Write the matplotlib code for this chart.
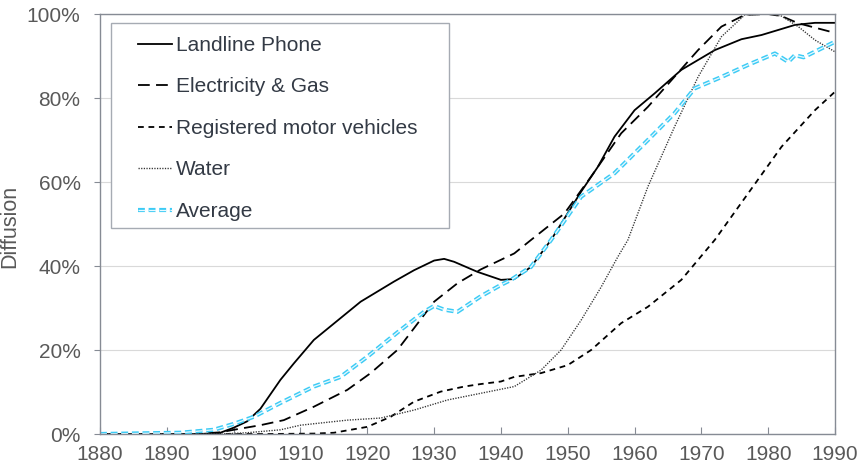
import matplotlib
matplotlib.use('Agg')
import matplotlib.pyplot as plt
import matplotlib.patheffects as pe
from matplotlib.patches import Rectangle
from matplotlib.ticker import PercentFormatter

# values, in percent
phone_years = [1880, 1895, 1898, 1900, 1902, 1904, 1907, 1909, 1912, 1916, 1919, 1924, 1927,
               1930, 1931.5, 1933, 1936.5, 1940, 1942, 1944.5, 1947.5, 1952, 1954.5, 1957,
               1960, 1963, 1967, 1972, 1976, 1979, 1984, 1987, 1990]
phone = [0, 0, 0.3, 1.5, 3, 6, 12.9, 16.8, 22.4, 27.6, 31.5, 36.3, 39,
         41.3, 41.7, 41, 38.6, 36.7, 36.9, 39.8, 46.2, 57.7, 63.6, 70.8,
         77.1, 81.1, 86.7, 91.4, 94, 95, 97.4, 97.9, 97.9]

elec_years = [1880, 1894, 1898, 1900, 1904, 1907.5, 1912, 1917, 1920.5, 1924.5, 1927, 1930,
              1933.5, 1937, 1942, 1944.5, 1949.5, 1953.5, 1958, 1962, 1966, 1969.5, 1973,
              1976.5, 1980, 1982, 1984.5, 1990]
elec = [0, 0, 0.4, 1.0, 2.1, 3.3, 6.5, 10.5, 14.5, 20, 25.2, 31.5,
        35.9, 39.2, 43, 46.2, 52.5, 61.3, 71.6, 77.9, 85.1, 91.4, 97,
        99.8, 100, 99.5, 97.8, 95.5]

cars_years = [1880, 1905, 1912, 1915, 1920, 1923.5, 1927, 1931, 1934.5, 1937, 1940, 1942,
              1946, 1950, 1953.5, 1958, 1962, 1967, 1972, 1977, 1982, 1987, 1990]
cars = [0, 0, 0.1, 0.3, 1.7, 4.1, 7.7, 10.1, 11.3, 11.9, 12.5, 13.6,
        14.5, 16.4, 20, 26.4, 30.3, 36.7, 46.2, 57.3, 68.4, 77.1, 81.5]

water_years = [1880, 1898, 1902, 1907, 1910, 1917, 1922, 1927, 1932, 1937, 1942, 1946,
               1949, 1952, 1955, 1957.5, 1959, 1962, 1966, 1969.5, 1973, 1976.5, 1980,
               1982, 1984.5, 1987, 1990]
water = [0, 0, 0.3, 1, 2.1, 3.3, 3.8, 5.7, 8.1, 9.7, 11.3, 15.2,
         20, 27.1, 35, 42.2, 46.2, 58.9, 73.2, 85, 94.6, 99.8, 100,
         99.5, 97, 93.8, 91]

avg_years = [1880, 1892, 1897, 1900, 1903, 1907, 1912, 1916, 1920, 1925, 1928.5, 1930,
             1931.5, 1933.5, 1937, 1940, 1941.5, 1944.5, 1947.5, 1952, 1957, 1962, 1966,
             1969, 1973, 1977, 1981, 1983, 1984, 1985.3, 1990]
avg = [0, 0.3, 1, 2.4, 4.1, 7.4, 11.3, 13.6, 18.4, 24.8, 29.1, 30.5,
       29.6, 29.1, 32.8, 35.5, 36.7, 39.8, 46.2, 56.5, 62.1, 70, 76.4,
       82.3, 85, 87.9, 90.6, 88.6, 90.2, 89.7, 93.4]

plt.rcParams['font.family'] = ['Liberation Sans', 'DejaVu Sans']

fig = plt.figure(figsize=(8.58, 4.75), dpi=100)
ax = fig.add_axes([0.1166, 0.0863, 0.8566, 0.8842])

ax.plot(phone_years, phone, color='black', lw=1.3, label='Landline Phone')
ax.plot(elec_years, elec, color='black', lw=1.3, dashes=(6.5, 3.5), label='Electricity & Gas')
ax.plot(cars_years, cars, color='black', lw=1.3, dashes=(3.2, 2.6), label='Registered motor vehicles')
ax.plot(water_years, water, color='#333333', lw=1.0, dashes=(0.9, 1.0), label='Water')
ax.plot(avg_years, avg, color='#e8f9ff', lw=0.9, dashes=(5.5, 3.0), label='Average',
        path_effects=[pe.Stroke(linewidth=3.0, foreground='#3ccbf5'), pe.Normal()])

ax.set_xlim(1880, 1990)
ax.set_ylim(0, 100)
ax.set_xticks(range(1880, 1991, 10))
ax.set_yticks(range(0, 101, 20))
ax.yaxis.set_major_formatter(PercentFormatter(decimals=0))
ax.grid(axis='y', color='#d9d9d9', lw=0.8)
ax.set_axisbelow(True)

for s in ax.spines.values():
    s.set_color('#868b94')
    s.set_linewidth(1.0)

ax.tick_params(axis='x', direction='in', length=5, color='#868b94', labelsize=15,
               labelcolor='#595959', pad=8)
ax.tick_params(axis='y', direction='out', length=4, color='#868b94', labelsize=15,
               labelcolor='#595959', pad=10)
ax.set_ylabel('Diffusion', fontsize=15.5, color='#595959')
ax.yaxis.set_label_coords(-0.108, 0.495)

# legend frame drawn separately so the padding can match the reference
ax.add_patch(Rectangle((0.015, 0.4905), 0.46, 0.488, transform=ax.transAxes,
                       facecolor='white', edgecolor='#a6abb3', lw=1.0, zorder=4))
leg = ax.legend(loc='upper left', bbox_to_anchor=(0.0517, 0.948), borderaxespad=0,
                fontsize=15, handlelength=1.63, handletextpad=0.2, labelspacing=1.08,
                borderpad=0, frameon=False)
leg.set_zorder(5)
for t in leg.get_texts():
    t.set_color('#333a45')

fig.savefig('out.png', dpi=100)
